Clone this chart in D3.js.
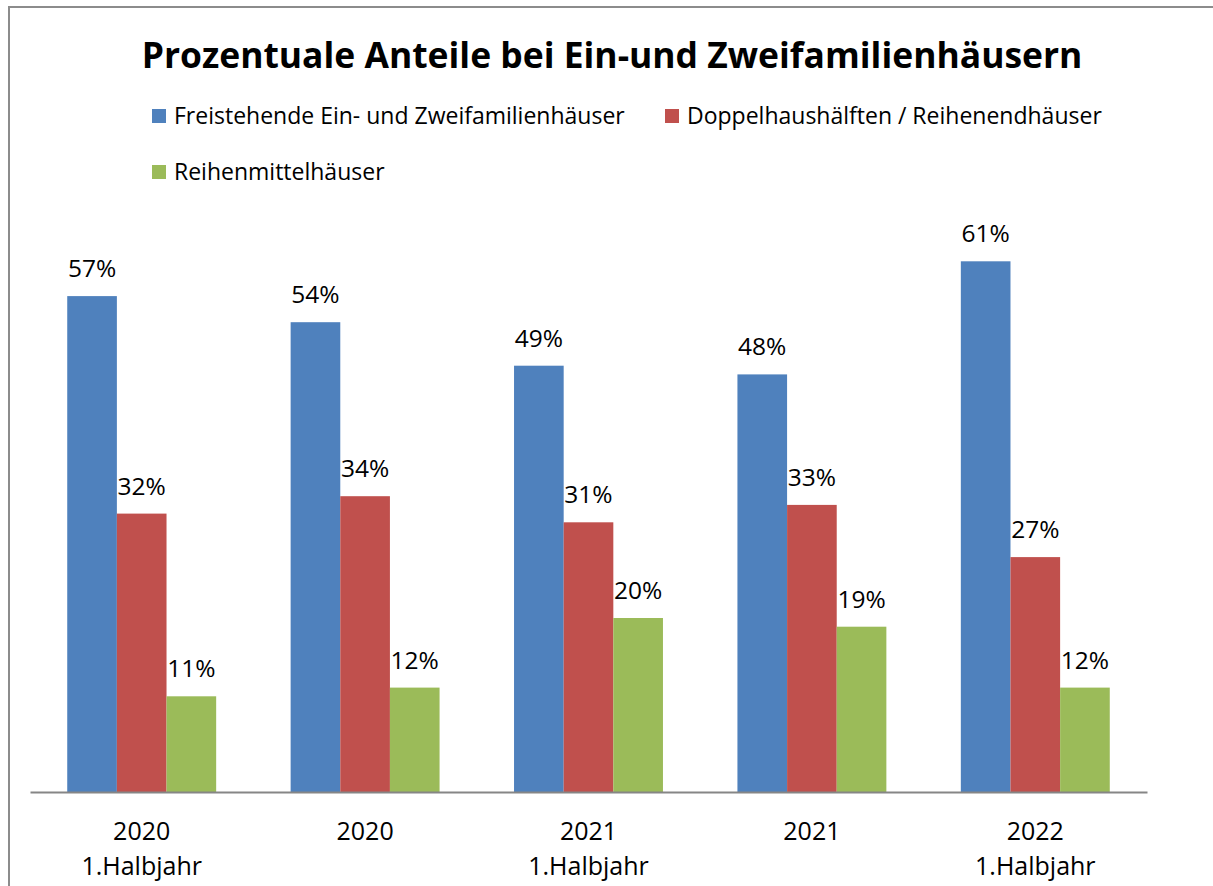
<!DOCTYPE html>
<html><head><meta charset="utf-8">
<script src="https://cdn.jsdelivr.net/npm/d3@7"></script>
<style>html,body{margin:0;padding:0;background:#fff;}svg{display:block;}text{font-family:"Open Sans",sans-serif;fill:#000;}</style>
</head><body>
<svg id="chart" width="1213" height="886"></svg>
<script>
const categories = [["2020","1.Halbjahr"],["2020"],["2021","1.Halbjahr"],["2021"],["2022","1.Halbjahr"]];
const seriesNames = ["Freistehende Ein- und Zweifamilienhäuser","Doppelhaushälften / Reihenendhäuser","Reihenmittelhäuser"];
const freistehend = [57,54,49,48,61];
const doppel = [32,34,31,33,27];
const reihenmittel = [11,12,20,19,12];
const colors = ["#4F81BD","#C0504D","#9BBB59"];
const title = "Prozentuale Anteile bei Ein-und Zweifamilienhäusern";

const series = [freistehend, doppel, reihenmittel];
const svg = d3.select("#chart");

// border
svg.append("rect").attr("x",9).attr("y",7).attr("width",1260).attr("height",950)
  .attr("fill","none").attr("stroke","#8c8c8c").attr("stroke-width",2);

// title fitted to width
const t = svg.append("text").attr("x",612).attr("y",68).attr("text-anchor","middle")
  .attr("font-weight","bold").attr("font-size",35).text(title);
const tw = t.node().getComputedTextLength();
t.attr("font-size", 35*941/tw);

// legend
const legendPos = [[152,109],[665,109],[152,165]];
seriesNames.forEach((n,i)=>{
  const g = svg.append("g").attr("transform",`translate(${legendPos[i][0]},${legendPos[i][1]})`);
  g.append("rect").attr("width",14).attr("height",14).attr("fill",colors[i]);
  g.append("text").attr("x",22).attr("y",15).attr("font-size",23).text(n);
});

const x0 = d3.scaleBand().domain(d3.range(categories.length)).range([30,1147]).paddingInner(1/3).paddingOuter(1/6);
const x1 = d3.scaleBand().domain(d3.range(series.length)).range([0,x0.bandwidth()]);
const y = d3.scaleLinear().domain([0,70]).range([792,183]);

const groups = svg.append("g").selectAll("g").data(categories).join("g")
  .attr("transform",(d,i)=>`translate(${x0(i)},0)`);
groups.each(function(c,ci){
  const g = d3.select(this);
  series.forEach((s,si)=>{
    g.append("rect").attr("x",x1(si)).attr("width",x1.bandwidth())
      .attr("y",y(s[ci])).attr("height",y(0)-y(s[ci])).attr("fill",colors[si]);
    g.append("text").attr("x",x1(si)+x1.bandwidth()/2).attr("y",y(s[ci])-19)
      .attr("text-anchor","middle").attr("font-size",24.5).text(s[ci]+"%");
  });
});

// axis
const axis = svg.append("g").attr("transform",`translate(0,${y(0)})`)
  .call(d3.axisBottom(x0).tickSize(0).tickFormat(""));
axis.select(".domain").attr("stroke","#868686").attr("stroke-width",2);
axis.selectAll(".tick").each(function(d){
  const tk = d3.select(this);
  categories[d].forEach((line,li)=>{
    tk.append("text").attr("x",0).attr("y",48+li*35).attr("text-anchor","middle")
      .attr("font-size",25).attr("fill","#000").text(line);
  });
});
</script>
</body></html>
